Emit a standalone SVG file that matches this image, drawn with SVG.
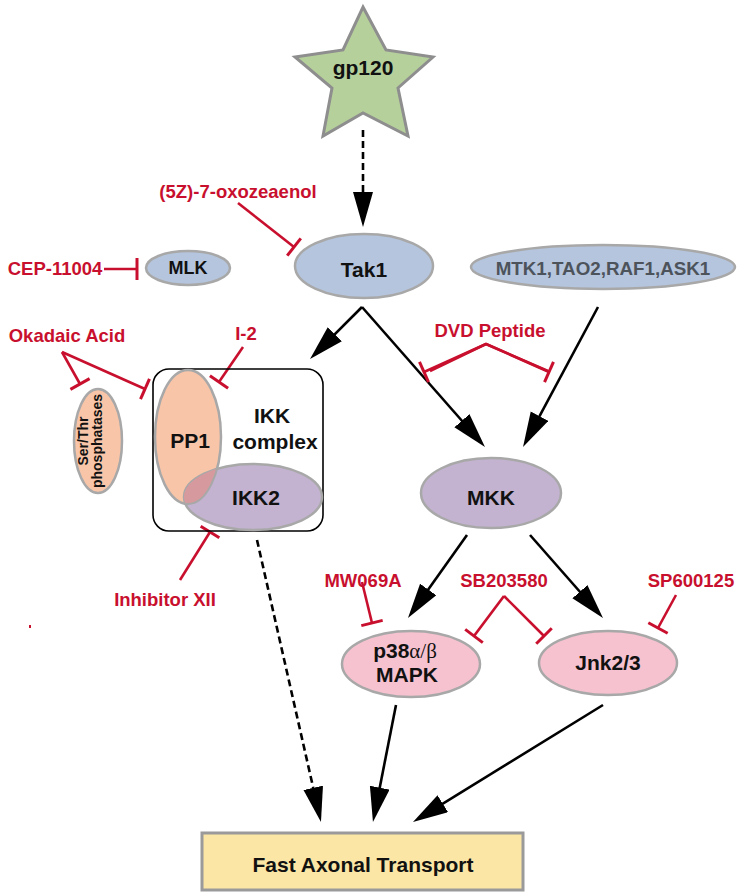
<svg xmlns="http://www.w3.org/2000/svg" width="742" height="896" viewBox="0 0 742 896">
<defs>
<style>
text{font-family:"Liberation Sans",Arial,sans-serif;font-weight:bold;}
.lbl{font-size:21px;fill:#111;text-anchor:middle;}
.red{font-size:18.5px;fill:#c8102e;text-anchor:middle;}
.node{stroke:#a8a8a8;stroke-width:2.5;}
.blue{fill:#b5c5dd;}
.purple{fill:#c3b3d0;}
.pink{fill:#f6c2d0;}
.peach{fill:#f9c5a8;}
.act{stroke:#000;stroke-width:2.6;fill:none;marker-end:url(#arrow);}
.dash{stroke-dasharray:7,4;}
.inh{stroke:#c8102e;stroke-width:2.6;fill:none;}
.tee{marker-end:url(#tee);}
</style>
<marker id="arrow" markerUnits="userSpaceOnUse" markerWidth="36" markerHeight="22" refX="27" refY="10" orient="auto">
<path d="M0,0 L35,10 L0,20 z" fill="#000"/>
</marker>
<marker id="tee" markerUnits="userSpaceOnUse" markerWidth="6" markerHeight="24" refX="3" refY="12" orient="auto">
<path d="M3,1 L3,23" stroke="#c8102e" stroke-width="3"/>
</marker>
<clipPath id="ikk2clip"><ellipse cx="253" cy="497" rx="69" ry="33"/></clipPath>
</defs>
<rect width="742" height="896" fill="#ffffff"/>

<g id="connectors">
<line class="act dash" x1="363" y1="130" x2="363" y2="219"/>
<line class="act" x1="362" y1="307" x2="315.7" y2="353.3"/>
<line class="act" x1="362" y1="307" x2="479.7" y2="441"/>
<line class="act" x1="598" y1="307" x2="526.8" y2="439.9"/>
<line class="act" x1="467" y1="535" x2="412.6" y2="611.5"/>
<line class="act" x1="530" y1="535" x2="597.7" y2="612"/>
<line class="act dash" x1="257" y1="540" x2="319.2" y2="814.2"/>
<line class="act" x1="396" y1="705" x2="374.5" y2="814.2"/>
<line class="act" x1="603" y1="705" x2="419.8" y2="817.8"/>

<line class="inh tee" x1="238" y1="203" x2="294" y2="247"/>
<line class="inh tee" x1="104" y1="269" x2="137" y2="269"/>
<line class="inh tee" x1="62" y1="352" x2="80" y2="384"/>
<line class="inh tee" x1="62" y1="352" x2="145" y2="389"/>
<line class="inh tee" x1="243" y1="347" x2="219" y2="382"/>
<polyline class="inh" points="430,371 486,344 548,371" fill="none" stroke="none"/>
<line class="inh tee" x1="486" y1="344" x2="424" y2="372"/>
<line class="inh tee" x1="486" y1="344" x2="549" y2="372"/>
<line class="inh tee" x1="180" y1="580" x2="210" y2="532"/>
<line class="inh tee" x1="362" y1="582" x2="372" y2="623"/>
<line class="inh tee" x1="504" y1="596" x2="474" y2="636"/>
<line class="inh tee" x1="504" y1="596" x2="544" y2="636"/>
<line class="inh tee" x1="676" y1="595" x2="658" y2="628"/>
</g>

<g id="gp120">
<polygon points="363,7 386,50 433,57 398,88 408,136 363,113 323,136 332,88 295,57 343,50" fill="#b6d09c" stroke="#8e8e8e" stroke-width="3" stroke-linejoin="miter"/>
<text class="lbl" x="363" y="75" font-size="22">gp120</text>
</g>

<g id="Tak1">
<ellipse class="node blue" cx="364" cy="266" rx="69" ry="32"/>
<text class="lbl" x="364" y="277">Tak1</text>
</g>

<g id="MLK">
<ellipse class="node blue" cx="188" cy="268" rx="42" ry="17"/>
<text class="lbl" x="188" y="274" style="font-size:18px">MLK</text>
</g>

<g id="MTK1">
<ellipse class="node blue" cx="603" cy="267" rx="132" ry="22" stroke-width="1.5"/>
<text class="lbl" x="603" y="275" style="font-size:18.8px;fill:#4d535b">MTK1,TAO2,RAF1,ASK1</text>
</g>

<g id="SerThr">
<ellipse class="node peach" cx="98" cy="441" rx="24" ry="52"/>
<g transform="translate(98,441) rotate(-90)">
<text class="lbl" x="0" y="-10" style="font-size:14px">Ser/Thr</text>
<text class="lbl" x="0" y="4" style="font-size:14px">phosphatases</text>
</g>
</g>

<g id="IKKcomplex">
<rect x="153" y="369" width="170" height="162" rx="16" fill="none" stroke="#000" stroke-width="1.6"/>
<text class="lbl" x="272" y="423">IKK</text>
<text class="lbl" x="275" y="449">complex</text>
</g>

<g id="PP1">
<ellipse class="node peach" cx="188" cy="437" rx="33" ry="67"/>
<text class="lbl" x="190" y="448">PP1</text>
</g>

<g id="IKK2">
<ellipse class="node purple" cx="253" cy="497" rx="69" ry="33"/>
<ellipse cx="188" cy="437" rx="33" ry="67" fill="#d69a9e" clip-path="url(#ikk2clip)"/>
<ellipse cx="188" cy="437" rx="33" ry="67" fill="none" stroke="#a8a8a8" stroke-width="2" clip-path="url(#ikk2clip)"/>
<text class="lbl" x="256" y="505">IKK2</text>
</g>

<g id="MKK">
<ellipse class="node purple" cx="491" cy="493" rx="70" ry="35"/>
<text class="lbl" x="491" y="505">MKK</text>
</g>

<g id="p38">
<ellipse class="node pink" cx="411" cy="664" rx="69" ry="33"/>
<text class="lbl" x="405" y="658">p38<tspan style="font-family:'Liberation Serif',serif;font-weight:normal">α/β</tspan></text>
<text class="lbl" x="407" y="682">MAPK</text>
</g>

<g id="Jnk">
<ellipse class="node pink" cx="608" cy="663" rx="69" ry="32"/>
<text class="lbl" x="608" y="670">Jnk2/3</text>
</g>

<g id="FAT">
<rect x="202" y="833" width="321" height="57" fill="#fbe6a5" stroke="#9a9a9a" stroke-width="3"/>
<text class="lbl" x="363" y="872">Fast Axonal Transport</text>
</g>

<g id="inhibitors">
<text class="red" x="238" y="198">(5Z)-7-oxozeaenol</text>
<text class="red" x="55" y="275">CEP-11004</text>
<text class="red" x="67" y="342">Okadaic Acid</text>
<text class="red" x="246" y="340">I-2</text>
<text class="red" x="490" y="337">DVD Peptide</text>
<text class="red" x="165" y="606">Inhibitor XII</text>
<text class="red" x="363" y="587">MW069A</text>
<text class="red" x="504" y="587">SB203580</text>
<text class="red" x="691" y="587">SP600125</text>
<rect x="29" y="625" width="2" height="3" fill="#c8102e"/>
</g>
</svg>
